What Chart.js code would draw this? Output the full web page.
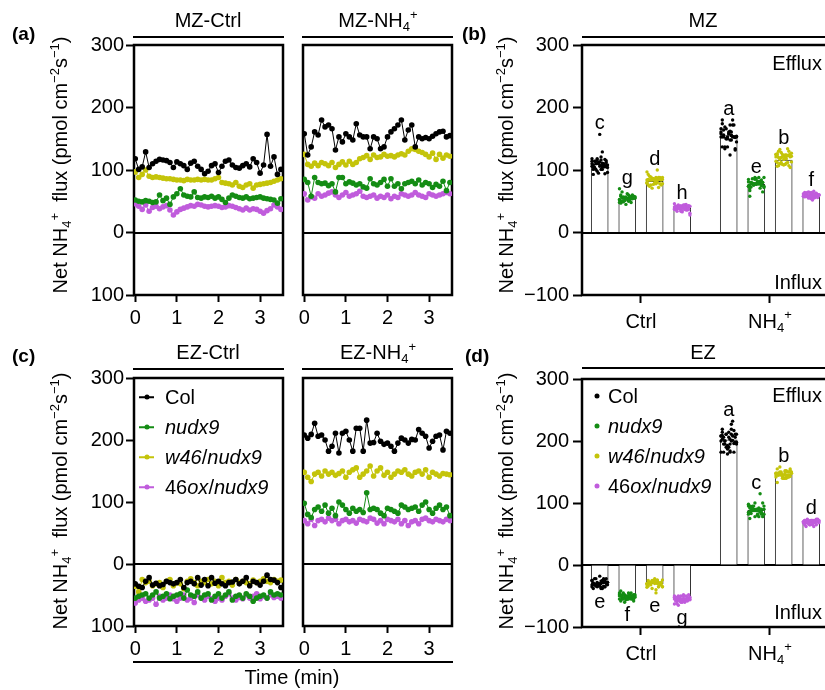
<!DOCTYPE html>
<html>
<head>
<meta charset="utf-8">
<title>Net NH4+ flux</title>
<script src="https://cdn.jsdelivr.net/npm/chart.js@4.4.1/dist/chart.umd.min.js"></script>
<style>
  body { margin: 0; width: 825px; height: 690px; overflow: hidden; position: relative; background: #fff;
    font-family: "Liberation Sans", Arial, sans-serif; font-size: 20px; color: #000; }
  canvas { position: absolute; }
  .txt { position: absolute; white-space: nowrap; line-height: 1; transform: translate(-50%, -50%); }
  .txt.right { transform: translate(-100%, -50%); }
  .txt.lefty { transform: translate(0, -50%); }
  .txt.ytitle { transform: translate(-50%, -50%) rotate(-90deg); }
  .panel { font-weight: bold; font-size: 19px; }
  .rule { position: absolute; height: 2px; background: #000; }
  sub, sup { font-size: 13px; line-height: 0; position: relative; vertical-align: baseline; }
  sub { top: 4px; }
  sup { top: -8px; }
  .dot { position: absolute; width: 5px; height: 5px; border-radius: 50%; transform: translate(-50%, -50%); }
  .seg { position: absolute; width: 15px; height: 1.5px; transform: translateY(-50%); }
</style>
</head>
<body>
<script>
// ---- data -------------------------------------------------------------
const timeSec = [0,5,10,15,20,25,30,35,40,45,50,55,60,65,70,75,80,85,90,95,100,
  105,110,115,120,125,130,135,140,145,150,155,160,165,170,175,180,185,190,195,200,205,210];

const genotypes = ['Col', 'nudx9', 'w46/nudx9', '46ox/nudx9'];
const treatments = ['Ctrl', 'NH4+'];

// MZ, control
const mzCtrlCol = [118,101,105,129,104,110,114,117,116,115,112,104,113,110,107,101,111,114,106,101,94,98,107,110,96,106,114,116,108,104,103,107,110,105,118,112,95,108,157,106,121,93,101];
const mzCtrlNudx = [52,50,49,51,50,48,49,60,51,55,45,57,62,70,60,58,57,65,56,55,57,56,58,55,57,53,48,55,60,58,56,55,57,54,55,56,57,55,54,53,52,47,54];
const mzCtrlW46 = [97,88,93,100,90,88,89,88,87,86,86,85,84,84,83,85,84,84,85,84,85,84,84,86,88,80,79,78,76,80,74,72,76,78,71,76,77,78,79,80,82,84,86];
const mzCtrl46ox = [46,42,37,44,34,40,42,38,41,43,36,28,33,37,39,41,43,42,45,44,42,41,42,43,42,40,41,43,42,40,38,36,39,36,38,37,34,31,35,38,44,41,37];
// MZ, NH4+
const mzNh4Col = [158,124,137,161,156,180,169,172,166,132,153,145,158,153,148,174,156,153,153,134,153,150,134,137,153,161,166,172,180,148,164,172,137,153,150,152,150,154,158,161,162,153,155];
const mzNh4Nudx = [85,80,58,88,80,78,79,75,78,65,88,88,78,81,79,76,78,73,71,86,78,76,80,85,74,86,74,78,70,78,80,82,78,84,76,80,78,72,77,74,82,67,80];
const mzNh4W46 = [125,109,106,111,107,112,110,107,112,104,109,113,108,114,109,112,118,120,123,117,124,120,121,125,122,123,121,124,126,124,130,134,133,130,128,125,121,127,117,125,119,124,122];
const mzNh446ox = [62,52,57,55,62,58,60,63,65,60,56,60,64,58,60,62,66,58,56,58,60,55,58,56,60,54,58,56,62,60,58,60,64,60,58,56,62,60,58,60,62,64,62];
// EZ, control
const ezCtrlCol = [-32,-36,-38,-28,-22,-34,-31,-35,-33,-28,-30,-32,-30,-25,-38,-30,-28,-32,-22,-34,-25,-35,-22,-31,-28,-32,-35,-30,-29,-25,-32,-28,-22,-35,-28,-30,-34,-28,-18,-25,-26,-30,-38];
const ezCtrlNudx = [-55,-52,-50,-48,-55,-50,-45,-55,-52,-48,-56,-52,-50,-48,-55,-42,-50,-52,-45,-55,-50,-48,-58,-52,-48,-55,-50,-45,-58,-52,-50,-55,-48,-52,-60,-55,-52,-50,-55,-45,-50,-48,-50];
const ezCtrlW46 = [-36,-45,-25,-30,-28,-35,-32,-30,-38,-28,-25,-35,-30,-32,-40,-28,-24,-30,-35,-28,-30,-25,-32,-28,-35,-22,-30,-28,-34,-25,-30,-28,-30,-32,-26,-30,-28,-24,-28,-30,-25,-28,-26];
const ezCtrl46ox = [-63,-58,-55,-60,-58,-55,-65,-52,-58,-55,-50,-56,-60,-55,-50,-58,-55,-62,-50,-55,-58,-52,-56,-60,-55,-58,-52,-48,-55,-58,-54,-56,-50,-55,-52,-48,-56,-52,-55,-50,-54,-52,-55];
// EZ, NH4+
const ezNh4Col = [208,203,209,227,206,208,200,182,190,211,179,211,214,200,182,219,219,182,232,195,196,211,198,193,195,190,182,195,203,200,195,201,200,217,211,206,187,198,206,208,184,214,211];
const ezNh4Nudx = [98,80,75,88,92,85,95,82,90,78,100,95,88,82,90,85,88,83,115,88,90,88,82,78,90,88,85,82,95,92,88,90,92,85,95,100,88,82,90,95,88,92,78];
const ezNh4W46 = [148,140,133,145,148,142,150,145,148,143,146,150,140,148,152,155,140,145,150,158,142,150,155,143,148,140,145,150,148,152,145,142,148,150,145,152,140,148,145,142,146,145,144];
const ezNh446ox = [70,65,72,62,70,72,68,74,70,72,65,70,72,68,70,66,72,70,68,74,72,66,70,65,72,70,68,72,65,70,62,68,70,65,72,74,70,68,72,70,68,72,70];

// bar means, order: Ctrl x 4 genotypes, then NH4+ x 4 genotypes
const mzMeans = [109, 54, 82, 40, 155, 77, 116, 59];
const ezMeans = [-30, -49, -30, -55, 202, 88, 146, 70];
const mzLetters = ['c', 'g', 'd', 'h', 'a', 'e', 'b', 'f'];
const ezLetters = ['e', 'f', 'e', 'g', 'a', 'c', 'b', 'd'];

const yTicks = [-100, 0, 100, 200, 300];
const timeTicks = [0, 1, 2, 3];

// ---- style ------------------------------------------------------------
const FONT = '"Liberation Sans", Arial, sans-serif';
const colors = ['#000000', '#148c14', '#c4c40a', '#c05cdc'];
Chart.defaults.font.family = FONT;
Chart.defaults.font.size = 20;
Chart.defaults.color = '#000';

// box frame + zero line
const framePlugin = {
  id: 'frame',
  beforeDatasetsDraw(chart) {
    const { ctx, chartArea: a, scales: { y } } = chart;
    ctx.save();
    ctx.strokeStyle = '#000';
    ctx.lineWidth = 2;
    const y0 = Math.round(y.getPixelForValue(0));
    ctx.beginPath();
    ctx.moveTo(a.left, y0);
    ctx.lineTo(a.right, y0);
    ctx.stroke();
    ctx.lineWidth = 2.5;
    ctx.strokeRect(a.left, a.top, a.right - a.left, a.bottom - a.top);
    ctx.restore();
  },
};

// text like NH4+ with subscript / superscript
function drawChem(ctx, text, cx, base) {
  const m = text.match(/^(\D*)(\d*)(\+?)$/);
  ctx.font = `20px ${FONT}`;
  const w0 = ctx.measureText(m[1]).width;
  ctx.font = `13px ${FONT}`;
  const w1 = ctx.measureText(m[2]).width;
  const w2 = ctx.measureText(m[3]).width;
  let x = cx - (w0 + w1 + w2) / 2;
  ctx.textAlign = 'left';
  ctx.font = `20px ${FONT}`;
  ctx.fillText(m[1], x, base);
  ctx.font = `13px ${FONT}`;
  ctx.fillText(m[2], x + w0, base + 4);
  ctx.fillText(m[3], x + w0 + w1, base - 9);
}

function tickGrid(len) {
  return { display: true, drawOnChartArea: false, drawTicks: true, tickLength: len,
    tickWidth: 2, tickColor: '#000', offset: false };
}

function makeCanvas(b) {
  const c = document.createElement('canvas');
  c.width = b.cw;
  c.height = b.ch;
  c.style.left = b.cx + 'px';
  c.style.top = b.cy + 'px';
  document.body.appendChild(c);
  return c;
}

function yScale(b, show, absLabels) {
  return {
    display: show, min: -100, max: 300,
    afterBuildTicks: (s) => { s.ticks = yTicks.map((v) => ({ value: v })); },
    afterFit: (s) => { s.width = show ? b.l - b.cx : 0; },
    border: { display: false },
    grid: tickGrid(b.tick),
    ticks: {
      padding: b.tpad,
      callback: (v) => (absLabels ? String(Math.abs(v)) : (v < 0 ? '\u2212' + Math.abs(v) : String(v))),
    },
  };
}

function timeChart(b, series, showY) {
  return new Chart(makeCanvas(b), {
    type: 'line',
    data: {
      datasets: series.map((vals, k) => ({
        label: genotypes[k],
        data: vals.map((v, i) => ({ x: timeSec[i] / 60, y: v })),
        borderColor: colors[k],
        backgroundColor: colors[k],
        borderWidth: 1,
        pointRadius: 2.8,
        pointBorderWidth: 0,
        pointHoverRadius: 2.8,
      })),
    },
    options: {
      responsive: false, animation: false, events: [],
      layout: { autoPadding: false,
        padding: { top: b.t - b.cy, right: b.cx + b.cw - b.r, left: showY ? 0 : b.l - b.cx, bottom: 0 } },
      plugins: { legend: { display: false }, tooltip: { enabled: false } },
      scales: {
        x: {
          type: 'linear', min: -0.03, max: 3.55, offset: false,
          afterBuildTicks: (s) => { s.ticks = timeTicks.map((v) => ({ value: v })); },
          afterFit: (s) => { s.height = b.cy + b.ch - b.b; },
          border: { display: false },
          grid: tickGrid(7),
          ticks: { padding: 4, maxRotation: 0 },
        },
        y: yScale(b, showY, true),
      },
    },
    plugins: [framePlugin],
  });
}

function barChart(b, means, series, letters) {
  const pos = means.map((_, j) => Math.floor(j / 4) + (j % 4 - 1.5) * 0.213);
  const jitter = (i) => (((i * 7) % 13) - 6) / 6 * 0.06;
  const datasets = [{
    type: 'bar',
    data: means.map((v, j) => ({ x: pos[j], y: v })),
    backgroundColor: '#ffffff', borderColor: '#333333', borderWidth: 1,
    barThickness: 17, order: 2,
  }];
  for (let k = 0; k < 4; k++) {
    const pts = [];
    [k, k + 4].forEach((j) => series[j].forEach((v, i) => pts.push({ x: pos[j] + jitter(i), y: v })));
    datasets.push({ type: 'scatter', label: genotypes[k], data: pts, backgroundColor: colors[k],
      pointRadius: 1.7, pointBorderWidth: 0, order: 1 });
  }
  const labelPlugin = {
    id: 'barLabels',
    afterDatasetsDraw(chart) {
      const { ctx, scales: { x, y }, chartArea } = chart;
      ctx.save();
      ctx.fillStyle = '#000';
      ctx.textBaseline = 'alphabetic';
      letters.forEach((t, j) => {
        ctx.font = `20px ${FONT}`;
        ctx.textAlign = 'center';
        const px = x.getPixelForValue(pos[j]);
        if (means[j] >= 0) ctx.fillText(t, px, y.getPixelForValue(Math.max(...series[j])) - 5);
        else ctx.fillText(t, px, y.getPixelForValue(Math.min(...series[j])) + 19);
      });
      treatments.forEach((t, g) => drawChem(ctx, t, x.getPixelForValue(g), chartArea.bottom + 33));
      ctx.restore();
    },
  };
  return new Chart(makeCanvas(b), {
    type: 'bar',
    data: { datasets },
    options: {
      responsive: false, animation: false, events: [],
      layout: { autoPadding: false, padding: { top: b.t - b.cy, right: b.cx + b.cw - b.r, left: 0, bottom: 0 } },
      plugins: { legend: { display: false }, tooltip: { enabled: false } },
      scales: {
        x: {
          type: 'linear', min: -0.457, max: 1.473, offset: false,
          afterBuildTicks: (s) => { s.ticks = treatments.map((_, g) => ({ value: g })); },
          afterFit: (s) => { s.height = b.cy + b.ch - b.b; },
          border: { display: false },
          grid: tickGrid(8),
          ticks: { display: false },
        },
        y: yScale(b, true, false),
      },
    },
    plugins: [framePlugin, labelPlugin],
  });
}

// ---- charts -----------------------------------------------------------
timeChart({ cx: 0, cy: 0, cw: 290, ch: 340, l: 134, t: 45, r: 283, b: 295, tick: 8, tpad: 2 },
  [mzCtrlCol, mzCtrlNudx, mzCtrlW46, mzCtrl46ox], true);
timeChart({ cx: 290, cy: 0, cw: 170, ch: 340, l: 303, t: 45, r: 452, b: 295, tick: 8, tpad: 2 },
  [mzNh4Col, mzNh4Nudx, mzNh4W46, mzNh446ox], false);
barChart({ cx: 440, cy: 0, cw: 410, ch: 340, l: 582, t: 45, r: 831, b: 295, tick: 9, tpad: 4 },
  mzMeans, [mzCtrlCol, mzCtrlNudx, mzCtrlW46, mzCtrl46ox, mzNh4Col, mzNh4Nudx, mzNh4W46, mzNh446ox], mzLetters);
timeChart({ cx: 0, cy: 330, cw: 290, ch: 330, l: 134, t: 378, b: 626, r: 283, tick: 8, tpad: 2 },
  [ezCtrlCol, ezCtrlNudx, ezCtrlW46, ezCtrl46ox], true);
timeChart({ cx: 290, cy: 330, cw: 170, ch: 330, l: 303, t: 378, b: 626, r: 452, tick: 8, tpad: 2 },
  [ezNh4Col, ezNh4Nudx, ezNh4W46, ezNh446ox], false);
barChart({ cx: 440, cy: 330, cw: 410, ch: 355, l: 582, t: 379, r: 831, b: 627, tick: 9, tpad: 4 },
  ezMeans, [ezCtrlCol, ezCtrlNudx, ezCtrlW46, ezCtrl46ox, ezNh4Col, ezNh4Nudx, ezNh4W46, ezNh446ox], ezLetters);

// ---- text, rules and legends ----------------------------------------
function addText(html, x, y, cls) {
  const d = document.createElement('div');
  d.className = 'txt ' + (cls || '');
  d.style.left = x + 'px';
  d.style.top = y + 'px';
  d.innerHTML = html;
  document.body.appendChild(d);
  return d;
}
function addRule(x, y, w) {
  const d = document.createElement('div');
  d.className = 'rule';
  d.style.cssText = `left:${x}px;top:${y}px;width:${w}px`;
  document.body.appendChild(d);
}
const NH4 = 'NH<sub>4</sub><sup>+</sup>';
const yTitle = 'Net ' + NH4 + '&nbsp; flux (pmol cm<sup>\u22122</sup>s<sup>\u22121</sup>)';

addText('(a)', 12, 33, 'panel lefty');
addText('(b)', 462, 33, 'panel lefty');
addText('(c)', 12, 355, 'panel lefty');
addText('(d)', 465, 355, 'panel lefty');

addText(yTitle, 60, 165, 'ytitle');
addText(yTitle, 506, 165, 'ytitle');
addText(yTitle, 60, 501, 'ytitle');
addText(yTitle, 506, 501, 'ytitle');

addText('MZ-Ctrl', 208, 20);
addText('MZ-' + NH4, 378, 20);
addText('MZ', 703, 20);
addRule(133, 36, 151);
addRule(302, 36, 151);
addRule(582, 36, 243);

addText('EZ-Ctrl', 208, 352);
addText('EZ-' + NH4, 378, 352);
addText('EZ', 703, 352);
addRule(133, 368, 151);
addRule(302, 368, 151);
addRule(582, 367, 243);

addRule(133, 661, 320);
addText('Time (min)', 292, 677);

addText('Efflux', 822, 63, 'right');
addText('Influx', 822, 282, 'right');
addText('Efflux', 822, 395, 'right');
addText('Influx', 822, 612, 'right');

const legendHtml = ['Col', '<i>nudx9</i>', '<i>w46</i>/<i>nudx9</i>', '46<i>ox</i>/<i>nudx9</i>'];
legendHtml.forEach((h, k) => {
  const yc = 397 + k * 30;
  const seg = document.createElement('div');
  seg.className = 'seg';
  seg.style.cssText = `left:139px;top:${yc}px;background:${colors[k]}`;
  document.body.appendChild(seg);
  const d1 = document.createElement('div');
  d1.className = 'dot';
  d1.style.cssText = `left:146.5px;top:${yc}px;background:${colors[k]}`;
  document.body.appendChild(d1);
  addText(h, 165, yc, 'lefty');

  const yd = 396 + k * 30;
  const d2 = document.createElement('div');
  d2.className = 'dot';
  d2.style.cssText = `left:597px;top:${yd}px;background:${colors[k]}`;
  document.body.appendChild(d2);
  addText(h, 608, yd, 'lefty');
});
</script>
</body>
</html>
